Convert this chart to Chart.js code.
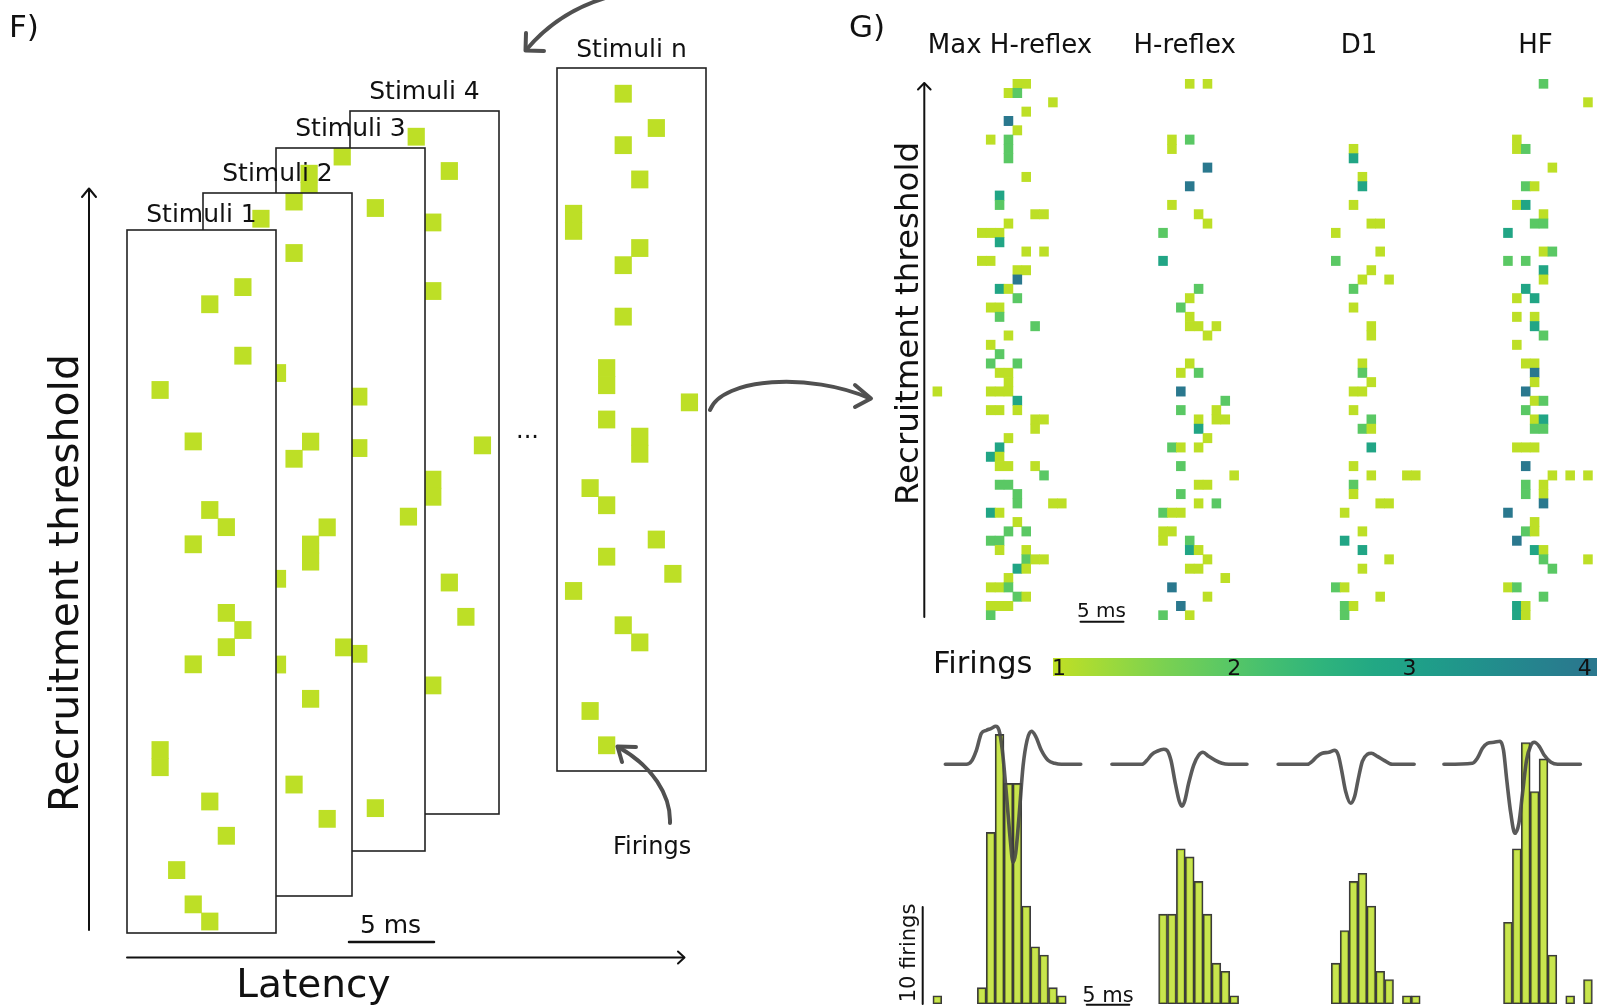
<!DOCTYPE html>
<html><head><meta charset="utf-8">
<script src="https://cdn.jsdelivr.net/npm/chart.js@4.4.1/dist/chart.umd.min.js"></script>
<style>
html,body{margin:0;padding:0;background:#fff;}
#page{position:relative;width:1597px;height:1008px;overflow:hidden;background:#fff;}
#page canvas{position:absolute;}
#overlay{position:absolute;left:0;top:0;z-index:30;pointer-events:none;}
</style></head><body><div id="page"></div>
<script>
// ================= DATA =================
// Panel F: firings of each stimulus, [latency bin, recruitment-threshold rank]
const stimulusNames = ['Stimuli 1', 'Stimuli 2', 'Stimuli 3', 'Stimuli 4', 'Stimuli n'];
const stim1 = [[7,37],[5,36],[7,33],[2,31],[4,28],[5,24],[6,23],[4,22],[6,18],[7,17],[6,16],[4,15],[2,10],[2,9],[5,7],[6,5],[3,3],[4,1],[5,0]];
const stim2 = [[3.5,39],[5.5,40],[5.5,37],[4.5,30],[6.5,26],[5.5,25],[7.5,21],[6.5,20],[6.5,19],[4.5,18],[8.5,14],[4.5,13],[6.5,11],[5.5,6],[7.5,4]];
const stim3 = [[2,39],[2,38],[4,40],[6,37],[5,26],[5,23],[8,19],[5,11],[6,2]];
const stim4 = [[4,39],[6,37],[5,34],[5,30],[8,21],[5,19],[5,18],[6,13],[7,11],[5,7]];
const stimN = [[4,39],[6,37],[4,36],[5,34],[1,32],[1,31],[5,30],[4,29],[4,26],[3,23],[3,22],[8,21],[3,20],[5,19],[5,18],[2,16],[3,15],[6,13],[3,12],[7,11],[1,10],[4,8],[5,7],[2,3],[3,1]];

// Panel G: conditions
const conditions = ['Max H-reflex', 'H-reflex', 'D1', 'HF'];
const firingLevels = [1, 2, 3, 4];
const colorbarRange = [0.966, 4.07];
// raster cells: [motor unit rank, latency bin, firings]
const rasterMaxH = [[57,9,1],[57,10,1],[56,8,1],[56,9,2],[55,13,1],[54,10,1],[53,8,4],[52,9,1],[51,6,1],[51,8,2],[50,8,2],[49,8,2],[47,10,1],[45,7,3],[44,7,2],[43,11,1],[43,12,1],[42,8,1],[41,5,1],[41,6,1],[41,7,1],[40,7,3],[39,10,1],[39,12,1],[38,5,1],[38,6,1],[37,9,1],[37,10,1],[36,9,4],[35,7,3],[35,8,1],[34,9,2],[33,6,1],[33,7,1],[32,7,2],[31,11,2],[30,8,1],[29,6,1],[28,7,2],[27,6,2],[27,9,2],[26,7,1],[26,8,1],[25,8,1],[24,0,1],[24,6,1],[24,7,1],[24,8,1],[23,9,3],[22,6,1],[22,7,1],[22,9,1],[21,11,1],[21,12,1],[20,11,1],[19,8,1],[18,7,3],[17,6,3],[17,7,1],[16,7,1],[16,8,1],[16,11,1],[15,12,2],[14,7,2],[14,8,2],[13,9,2],[12,9,2],[12,13,1],[12,14,1],[11,6,3],[11,7,1],[10,9,1],[9,8,2],[9,10,2],[8,6,2],[8,7,2],[7,7,1],[7,10,1],[6,10,2],[6,11,1],[6,12,1],[5,9,3],[5,10,1],[4,8,1],[3,6,1],[3,7,1],[3,8,2],[2,9,2],[2,10,1],[1,6,1],[1,7,1],[1,8,1],[0,6,2]];
const rasterH = [[57,3,1],[57,5,1],[51,1,1],[51,3,2],[50,1,1],[48,5,4],[46,3,4],[44,1,1],[43,4,1],[42,5,1],[41,0,2],[38,0,3],[35,4,2],[34,3,1],[33,2,2],[32,3,1],[31,3,1],[31,4,1],[31,6,1],[30,5,1],[27,3,1],[26,2,1],[26,4,2],[24,2,4],[23,7,2],[22,2,2],[22,6,1],[21,4,1],[21,6,1],[21,7,1],[20,4,3],[19,5,1],[18,1,2],[18,2,1],[18,4,1],[16,2,2],[15,8,1],[14,4,1],[14,5,1],[13,2,2],[12,4,1],[12,6,2],[11,0,2],[11,1,1],[11,2,1],[9,0,1],[9,1,1],[8,0,1],[8,3,2],[7,3,3],[7,4,1],[6,5,1],[5,3,1],[5,4,1],[4,7,1],[3,1,4],[2,5,1],[1,2,4],[0,0,2],[0,3,1]];
const rasterD1 = [[50,2,1],[49,2,3],[47,3,1],[46,3,3],[44,2,1],[42,4,1],[42,5,1],[41,0,1],[39,5,1],[38,0,2],[37,4,1],[36,3,1],[36,6,1],[35,2,2],[33,2,1],[31,4,1],[30,4,1],[27,3,1],[26,3,2],[25,4,1],[24,2,1],[24,3,1],[22,2,1],[21,4,2],[20,3,2],[20,4,1],[18,4,3],[16,2,1],[15,4,1],[15,8,1],[15,9,1],[14,2,2],[13,2,1],[12,5,1],[12,6,1],[11,1,1],[9,3,1],[8,1,3],[7,3,3],[6,6,1],[5,3,1],[3,0,2],[3,1,1],[2,5,1],[1,1,2],[1,2,1],[0,1,2]];
const rasterHF = [[57,4,2],[55,9,1],[51,1,1],[50,1,1],[50,2,2],[48,5,1],[46,2,2],[46,3,1],[44,1,1],[44,2,3],[43,4,1],[42,3,2],[42,4,2],[41,0,3],[39,4,1],[39,5,2],[38,0,2],[38,2,2],[37,4,3],[36,4,1],[35,2,3],[34,1,1],[34,3,3],[32,1,1],[32,3,1],[31,3,3],[30,4,2],[29,1,1],[27,2,1],[27,3,1],[26,3,4],[25,3,1],[24,2,4],[23,3,1],[23,4,2],[22,2,2],[21,3,1],[21,4,3],[20,3,2],[20,4,2],[18,1,1],[18,2,1],[18,3,1],[16,2,4],[15,5,1],[15,7,1],[15,9,1],[14,2,2],[14,4,1],[13,2,2],[13,4,1],[12,4,4],[11,0,4],[10,3,1],[9,2,2],[9,3,1],[8,1,4],[7,3,3],[7,4,1],[6,4,2],[6,9,1],[5,5,2],[3,0,1],[3,1,2],[2,4,2],[1,1,3],[1,2,1],[0,1,3],[0,2,1]];

// histograms: latency bins and firing counts
const histMaxH_lat = [0,5,6,7,8,9,10,11,12,13,14];
const histMaxH_n   = [1,2,21,33,27,27,12,7,6,2,1];
const histH_lat    = [0,1,2,3,4,5,6,7,8];
const histH_n      = [11,11,19,18,15,11,5,4,1];
const histD1_lat   = [0,1,2,3,4,5,6,8,9];
const histD1_n     = [5,9,15,16,12,4,3,1,1];
const histHF_lat   = [0,1,2,3,4,5,7,9];
const histHF_n     = [10,19,32,26,30,6,1,3];

// average waveforms: time (latency-bin units) and amplitude (mV)
const waveMaxH_t  = [0.90,3.27,3.83,4.39,4.95,5.51,6.08,6.56,6.94,7.31,7.76,8.21,8.51,8.81,9.19,9.64,10.09,10.58,11.06,11.70,12.45,13.20,13.95,16.13];
const waveMaxH_mV = [0,0,0.03,0.14,0.31,0.34,0.36,0.38,0.34,0.14,-0.29,-0.76,-0.98,-0.89,-0.52,-0.02,0.24,0.33,0.28,0.14,0.04,0.01,0,0];
const waveH_t     = [-5.75,-2.37,-1.81,-1.25,-0.68,0.07,0.44,0.89,1.38,1.83,2.13,2.43,2.88,3.44,4.00,4.49,5.13,5.88,6.63,7.38,9.44];
const waveH_mV    = [0,0,0.04,0.10,0.13,0.15,0.14,0.04,-0.19,-0.37,-0.42,-0.37,-0.19,-0.01,0.09,0.12,0.08,0.04,0.01,0,0];
const waveD1_t    = [-6.48,-3.21,-2.65,-2.08,-1.52,-0.77,-0.09,0.29,0.66,1.11,1.68,2.13,2.50,2.99,3.56,4.01,4.68,5.43,6.37,8.82];
const waveD1_mV   = [0,0,0.03,0.08,0.11,0.12,0.14,0.09,-0.06,-0.27,-0.39,-0.32,-0.16,0.03,0.10,0.11,0.08,0.04,0,0];
const waveHF_t    = [-7.20,-4.00,-3.44,-2.87,-2.31,-1.56,-0.88,-0.50,-0.13,0.32,0.78,1.23,1.64,2.09,2.58,2.96,3.52,4.09,4.84,5.59,8.15];
const waveHF_mV   = [0,0.01,0.06,0.16,0.21,0.22,0.23,0.14,-0.16,-0.49,-0.69,-0.59,-0.29,0.04,0.19,0.22,0.18,0.09,0.02,0,0];

// ================= STYLE / LAYOUT =================
const FONT = "'DejaVu Sans', 'Verdana', sans-serif";
const CELL_F = '#bddf26';
const FIRING_COLORS = ['#bddf26', '#5ac864', '#21a585', '#2a788e'];
const VIRIDIS_STOPS = [[1,'#bddf26'],[1.3,'#9bd93c'],[1.6,'#7ad151'],[1.9,'#5ec962'],[2.2,'#44bf70'],[2.5,'#2fb47c'],[2.8,'#22a884'],[3.1,'#1f9e89'],[3.4,'#21918c'],[3.7,'#25848e'],[4,'#2a788e']];
const HIST_FILL = 'rgba(188,223,39,0.82)';
const HIST_EDGE = '#3b3b3b';
const WAVE_COLOR = 'rgba(72,72,72,0.9)';

const STIM = { w: 149, h: 703, latMax: 9, ranks: 41, font: 25 };
const stimLayout = [
  {left:127, top:230, pad:0, y0:-0.17},
  {left:203, top:193, pad:4, y0:0},
  {left:276, top:148, pad:4, y0:0},
  {left:350, top:111, pad:4, y0:0},
  {left:557, top:68,  pad:3, y0:0}
];
const G = { left:900, right:1597, rasterTop:79, rasterBottom:620, histTop:700, histBottom:1004,
            bin:8.89, origins:[932.9,1158.6,1331.3,1503.5], units:58,
            pxPerFiring:8.17, waveBase:764.3, pxPerMV:100 };
const CB = { left:1053, top:658, width:544, height:18, labelBaseline:17.3, labelSize:22 };

Chart.defaults.font.family = FONT;
Chart.defaults.color = '#111';

const page = document.getElementById('page');
function makeCanvas(left, top, w, h, z) {
  const c = document.createElement('canvas');
  c.width = w; c.height = h;
  c.style.left = left + 'px'; c.style.top = top + 'px';
  c.style.width = w + 'px'; c.style.height = h + 'px';
  c.style.zIndex = z;
  page.appendChild(c);
  return c;
}
const baseOpts = () => ({
  responsive: false, animation: false, devicePixelRatio: 1, events: [],
  plugins: { legend: { display: false }, tooltip: { enabled: false } }
});

// white box with frame behind/around each stimulus raster
const boxPlugin = {
  id: 'stimBox',
  beforeDatasetsDraw(chart) {
    const {ctx, chartArea: a} = chart;
    ctx.save(); ctx.fillStyle = '#fff'; ctx.fillRect(a.left, a.top, a.width, a.height); ctx.restore();
  },
  afterDatasetsDraw(chart) {
    const {ctx, chartArea: a} = chart;
    ctx.save(); ctx.strokeStyle = '#222'; ctx.lineWidth = 1.6;
    ctx.strokeRect(a.left, a.top, a.width, a.height); ctx.restore();
  }
};

// ================= PANEL F =================
[stim1, stim2, stim3, stim4, stimN].forEach((cells, k) => {
  const Lk = stimLayout[k];
  const titleH = Math.round(STIM.font * 1.2) + Lk.pad;
  const cv = makeCanvas(Lk.left - 2, Lk.top - titleH, STIM.w + 4, titleH + STIM.h + 2, 10 - k);
  const o = baseOpts();
  o.layout = { padding: { left: 2, right: 2, top: 0, bottom: 2 } };
  o.plugins.title = { display: true, text: stimulusNames[k], color: '#111',
    font: { size: STIM.font, weight: 'normal', family: FONT }, padding: { top: 0, bottom: Lk.pad } };
  o.scales = {
    x: { type: 'linear', display: false, offset: false, min: 0, max: STIM.latMax },
    y: { type: 'linear', display: false, min: Lk.y0, max: Lk.y0 + STIM.ranks }
  };
  new Chart(cv, {
    type: 'bar',
    data: { datasets: [{
      data: cells.map(([lat, r]) => ({ x: lat, y: [r, r + 1] })),
      backgroundColor: CELL_F, borderWidth: 0, barPercentage: 1, categoryPercentage: 1, grouped: false
    }] },
    options: o,
    plugins: [boxPlugin]
  });
});

// ================= PANEL G: raster =================
const axisIds = ['xMaxH', 'xH', 'xD1', 'xHF'];
function latRange(i) {
  return { min: (G.left - G.origins[i]) / G.bin - 0.5, max: (G.right - G.origins[i]) / G.bin - 0.5 };
}
(function () {
  const cv = makeCanvas(G.left, G.rasterTop, G.right - G.left, G.rasterBottom - G.rasterTop, 12);
  const o = baseOpts();
  o.layout = { padding: 0 };
  o.scales = { y: { type: 'linear', display: false, min: 0, max: G.units } };
  axisIds.forEach((id, i) => { o.scales[id] = Object.assign({ type: 'linear', axis: 'x', display: false, offset: false }, latRange(i)); });
  const datasets = [rasterMaxH, rasterH, rasterD1, rasterHF].map((cells, i) => ({
    label: conditions[i], xAxisID: axisIds[i], yAxisID: 'y',
    data: cells.map(([u, l, f]) => ({ x: l, y: [u, u + 1], f: f })),
    backgroundColor: c => (c.raw ? FIRING_COLORS[c.raw.f - 1] : FIRING_COLORS[0]),
    borderWidth: 0, barPercentage: 1, categoryPercentage: 1, grouped: false
  }));
  new Chart(cv, { type: 'bar', data: { datasets }, options: o });
})();

// ================= PANEL G: colour bar =================
const colorbarTicks = {
  id: 'colorbarTicks',
  afterDatasetsDraw(chart) {
    const {ctx} = chart; const xs = chart.scales.x;
    ctx.save();
    ctx.fillStyle = '#111';
    ctx.font = CB.labelSize + 'px ' + FONT;
    ctx.textAlign = 'center'; ctx.textBaseline = 'alphabetic';
    firingLevels.forEach(v => ctx.fillText(String(v), xs.getPixelForValue(v), CB.labelBaseline));
    ctx.restore();
  }
};
(function () {
  const cv = makeCanvas(CB.left, CB.top, CB.width, CB.height, 12);
  const o = baseOpts();
  o.indexAxis = 'y';
  o.layout = { padding: 0 };
  o.scales = {
    x: { type: 'linear', display: false, offset: false, min: colorbarRange[0], max: colorbarRange[1] },
    y: { type: 'category', display: false, offset: true }
  };
  new Chart(cv, {
    type: 'bar',
    data: { labels: ['Firings'], datasets: [{
      data: [colorbarRange],
      backgroundColor: ctx => {
        const ch = ctx.chart; if (!ch.chartArea) return FIRING_COLORS[0];
        const xs = ch.scales.x;
        const g = ch.ctx.createLinearGradient(xs.getPixelForValue(firingLevels[0]), 0, xs.getPixelForValue(firingLevels[3]), 0);
        VIRIDIS_STOPS.forEach(([v, c]) => g.addColorStop((v - 1) / 3, c));
        return g;
      },
      borderWidth: 0, barPercentage: 1, categoryPercentage: 1
    }] },
    options: o,
    plugins: [colorbarTicks]
  });
})();

// ================= PANEL G: histograms + waveforms =================
(function () {
  const h = 308, padB = (G.histTop + h) - G.histBottom;
  const cv = makeCanvas(G.left, G.histTop, G.right - G.left, h, 12);
  const o = baseOpts();
  o.layout = { padding: { left: 0, right: 0, top: 0, bottom: padB } };
  const areaH = G.histBottom - G.histTop;
  o.scales = {
    yh: { type: 'linear', axis: 'y', display: false, min: 0, max: areaH / G.pxPerFiring },
    yw: { type: 'linear', axis: 'y', display: false,
          min: -(G.histBottom - G.waveBase) / G.pxPerMV, max: (G.waveBase - G.histTop) / G.pxPerMV }
  };
  axisIds.forEach((id, i) => { o.scales[id] = Object.assign({ type: 'linear', axis: 'x', display: false, offset: false }, latRange(i)); });
  const hl = [histMaxH_lat, histH_lat, histD1_lat, histHF_lat];
  const hn = [histMaxH_n, histH_n, histD1_n, histHF_n];
  const wt = [waveMaxH_t, waveH_t, waveD1_t, waveHF_t];
  const wa = [waveMaxH_mV, waveH_mV, waveD1_mV, waveHF_mV];
  const datasets = [];
  conditions.forEach((name, i) => {
    datasets.push({
      type: 'bar', label: name + ' histogram', xAxisID: axisIds[i], yAxisID: 'yh', order: 2,
      data: hl[i].map((l, j) => ({ x: l, y: hn[i][j] })),
      backgroundColor: HIST_FILL, borderColor: HIST_EDGE, borderWidth: 1.6, borderSkipped: false,
      barPercentage: 1, categoryPercentage: 1, grouped: false
    });
    datasets.push({
      type: 'line', label: name + ' waveform', xAxisID: axisIds[i], yAxisID: 'yw', order: 0,
      data: wt[i].map((t, j) => ({ x: t, y: wa[i][j] })),
      borderColor: WAVE_COLOR, borderWidth: 3.6, pointRadius: 0, fill: false,
      cubicInterpolationMode: 'monotone', borderCapStyle: 'round', borderJoinStyle: 'round'
    });
  });
  new Chart(cv, { type: 'bar', data: { datasets }, options: o });
})();

// ================= text, axes arrows, scale bars =================
const svgNS = 'http://www.w3.org/2000/svg';
const svg = document.createElementNS(svgNS, 'svg');
svg.setAttribute('id', 'overlay'); svg.setAttribute('width', 1597); svg.setAttribute('height', 1008);
page.appendChild(svg);
function el(tag, attrs, text) {
  const e = document.createElementNS(svgNS, tag);
  for (const k in attrs) e.setAttribute(k, attrs[k]);
  if (text !== undefined) e.textContent = text;
  svg.appendChild(e); return e;
}
function txt(x, y, size, s, anchor, rot) {
  const a = { x: 0, y: 0, 'font-size': size, 'font-family': FONT, fill: '#111', 'text-anchor': anchor || 'start' };
  a.transform = 'translate(' + x + ',' + y + ')' + (rot ? ' rotate(' + rot + ')' : '');
  return el('text', a, s);
}
function line(d, w, c) { return el('path', { d: d, stroke: c || '#111', 'stroke-width': w, fill: 'none', 'stroke-linecap': 'round', 'stroke-linejoin': 'round' }); }

txt(9, 37, 31, 'F)');
txt(849, 37, 31, 'G)');
txt(313.4, 997, 39, 'Latency', 'middle');
txt(78, 583, 41, 'Recruitment threshold', 'middle', -90);
txt(516, 438, 24, '...');
txt(390.5, 933, 25, '5 ms', 'middle');
line('M349 942 L434 942', 2.5);
txt(613, 854, 24, 'Firings');
// F axes
line('M89 930 L89 189', 2); line('M82 197 L89 188.5 L96 197', 2);
line('M127 957.5 L683.5 957.5', 2); line('M678 951.5 L684.5 957.5 L678 963.5', 2);
// curved grey arrows
line('M612 -4 Q560 10 527 49', 4, '#505050'); line('M526 33 L525.5 50.5 L544 51', 4, '#505050');
line('M710 410 C722 378 810 372 870 398.5', 4, '#505050'); line('M855 385 L871 398.5 L855 407', 4, '#505050');
line('M670 823 C671 795 652 766 619 747.5', 4, '#505050'); line('M622 762 L617.5 746.5 L636 747', 4, '#505050');
// G labels
const titleX = [1010, 1184.7, 1359, 1535.5];
conditions.forEach((c, i) => txt(titleX[i], 53, 26, c, 'middle'));
txt(918, 323.5, 32.5, 'Recruitment threshold', 'middle', -90);
line('M924.3 617 L924.3 83.5', 2); line('M918 89.5 L924.3 83 L930.6 89.5', 2);
txt(1101.5, 617, 20, '5 ms', 'middle');
line('M1080.5 621.7 L1123.5 621.7', 2);
txt(933, 673.3, 30.5, 'Firings');
txt(915, 953, 21, '10 firings', 'middle', -90);
line('M922.7 907 L922.7 1004', 2);
txt(1108, 1001.5, 21, '5 ms', 'middle');
line('M1086.7 1004.8 L1129.3 1004.8', 2);
</script>
</body></html>
